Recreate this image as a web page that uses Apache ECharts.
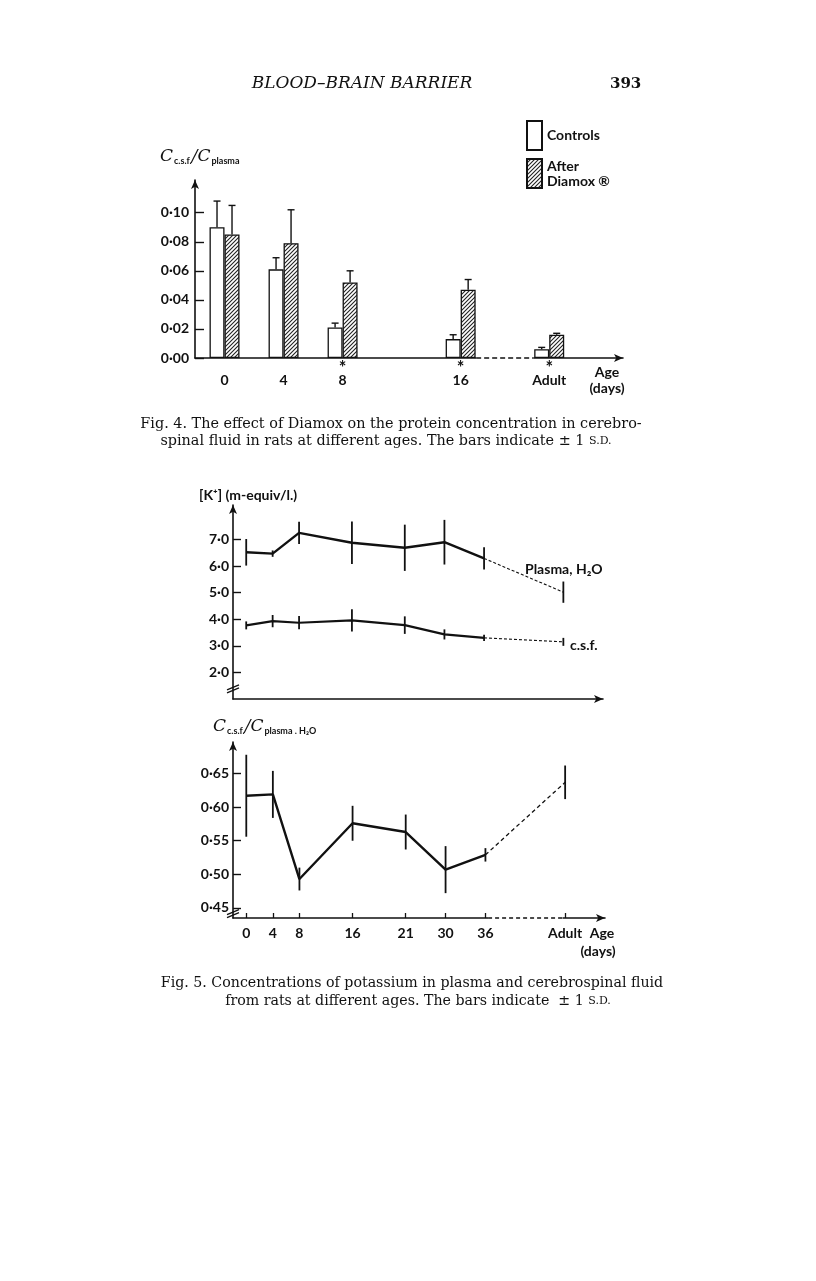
<!DOCTYPE html>
<html><head><meta charset="utf-8">
<script src="https://cdn.jsdelivr.net/npm/echarts@6/dist/echarts.min.js"></script>
<style>html,body{margin:0;padding:0;background:#fff}#c{width:816px;height:1281px}</style>
</head><body><div id="c"></div>
<script>
// ---------- Fig. 4 data ----------
const fig4Categories = ['0', '4', '8', '16', 'Adult'];
const fig4AxisPos = [0, 4, 8, 16, 22];
const fig4Controls = [0.090, 0.061, 0.021, 0.013, 0.006];
const fig4ControlsSD = [0.018, 0.008, 0.003, 0.003, 0.0013];
const fig4Diamox = [0.085, 0.079, 0.052, 0.047, 0.016];
const fig4DiamoxSD = [0.020, 0.023, 0.008, 0.007, 0.001];
const fig4Starred = [false, false, true, true, true];
const fig4YTicks = [0, 0.02, 0.04, 0.06, 0.08, 0.10];

// ---------- Fig. 5 data ----------
const fig5Categories = ['0', '4', '8', '16', '21', '30', '36', 'Adult'];
const fig5AxisPos = [1, 3, 5, 9, 13, 16, 19, 25];
const plasmaK = [6.52, 6.47, 7.25, 6.88, 6.69, 6.90, 6.29, 5.02];
const plasmaKSD = [0.50, 0.12, 0.42, 0.80, 0.87, 0.84, 0.42, 0.40];
const csfK = [3.77, 3.93, 3.87, 3.96, 3.78, 3.43, 3.30, 3.15];
const csfKSD = [0.15, 0.23, 0.25, 0.42, 0.33, 0.19, 0.12, 0.15];
const ratio = [0.617, 0.619, 0.493, 0.576, 0.563, 0.507, 0.529, 0.637];
const ratioSD = [0.061, 0.035, 0.017, 0.026, 0.026, 0.035, 0.010, 0.025];
const kTicks = [2, 3, 4, 5, 6, 7];
const ratioTicks = [0.45, 0.50, 0.55, 0.60, 0.65];

const SANS = 'Lato, "Open Sans", sans-serif';
const SERIF = '"DejaVu Serif", "Liberation Serif", serif';
const INK = '#111';

function hatch() {
  const c = document.createElement('canvas');
  c.width = 4; c.height = 4;
  const g = c.getContext('2d');
  g.fillStyle = '#fff'; g.fillRect(0, 0, 4, 4);
  g.strokeStyle = '#222'; g.lineWidth = 1.1;
  g.beginPath();
  g.moveTo(0, 4); g.lineTo(4, 0);
  g.moveTo(-1, 1); g.lineTo(1, -1);
  g.moveTo(3, 5); g.lineTo(5, 3);
  g.stroke();
  return c;
}
const dot = (v, d) => v.toFixed(d).replace('.', '\u00b7');

const chart = echarts.init(document.getElementById('c'), null, { renderer: 'canvas' });

function fig4Err(side) {
  return function (params, api) {
    const x = api.value(0), v = api.value(1), sd = api.value(2);
    const b = api.coord([x, v]), t = api.coord([x, v + sd]);
    const cx = b[0] + side * 7.5;
    return { type: 'group', children: [
      { type: 'line', shape: { x1: cx, y1: b[1], x2: cx, y2: t[1] }, style: { stroke: INK, lineWidth: 1.4 } },
      { type: 'line', shape: { x1: cx - 3.5, y1: t[1], x2: cx + 3.5, y2: t[1] }, style: { stroke: INK, lineWidth: 1.4 } }
    ] };
  };
}
function vErr(params, api) {
  const x = api.value(0), v = api.value(1), sd = api.value(2);
  const lo = api.coord([x, v - sd]), hi = api.coord([x, v + sd]);
  return { type: 'line', shape: { x1: lo[0], y1: lo[1], x2: hi[0], y2: hi[1] }, style: { stroke: INK, lineWidth: 1.8 } };
}
function breakMark(params, api) {
  const p = api.coord([api.value(0), api.value(1)]);
  return { type: 'group', children: [
    { type: 'line', shape: { x1: p[0] - 6, y1: p[1] + 2, x2: p[0] + 6, y2: p[1] - 3 }, style: { stroke: INK, lineWidth: 1.3 } },
    { type: 'line', shape: { x1: p[0] - 6, y1: p[1] + 5, x2: p[0] + 6, y2: p[1] } , style: { stroke: INK, lineWidth: 1.3 } }
  ] };
}

const axisLineStyle = { color: INK, width: 1.6 };
const arrowLine = { onZero: false, lineStyle: axisLineStyle, symbol: ['none', 'arrow'], symbolSize: [6, 9] };
const yLabel = (digits, margin) => ({
  fontFamily: SANS, fontWeight: 'bold', fontSize: 14, color: INK, margin: margin,
  formatter: v => dot(v, digits)
});

const option = {
  animation: false,
  backgroundColor: '#fff',
  grid: [
    { left: 195, top: 180, width: 428, height: 178 },
    { left: 233, top: 505, width: 370, height: 194 },
    { left: 233, top: 742, width: 372, height: 176 }
  ],
  legend: {
    left: 521, top: 115, orient: 'vertical', itemWidth: 15, itemHeight: 29, itemGap: 7,
    selectedMode: false, icon: 'rect',
    data: ['Controls', 'Diamox'],
    formatter: n => n === 'Controls' ? 'Controls' : 'After\nDiamox \u00ae',
    textStyle: { fontFamily: SANS, fontWeight: 'bold', fontSize: 14, lineHeight: 15, color: INK }
  },
  xAxis: [
    { gridIndex: 0, type: 'value', min: -2, max: 27, splitLine: { show: false },
      axisLine: arrowLine, axisTick: { show: false },
      axisLabel: { customValues: fig4AxisPos, margin: 6,
        formatter: v => { const i = fig4AxisPos.indexOf(v); return '{s|' + (fig4Starred[i] ? '*' : ' ') + '}\n{n|' + fig4Categories[i] + '}'; },
        rich: { s: { fontFamily: SANS, fontWeight: 'bold', fontSize: 18, lineHeight: 9, color: INK },
                n: { fontFamily: SANS, fontWeight: 'bold', fontSize: 14, lineHeight: 14, color: INK } } } },
    { gridIndex: 1, type: 'value', min: 0, max: 28, splitLine: { show: false },
      axisLine: arrowLine, axisTick: { show: false }, axisLabel: { show: false } },
    { gridIndex: 2, type: 'value', min: 0, max: 28, splitLine: { show: false },
      axisLine: arrowLine,
      axisTick: { customValues: fig5AxisPos, inside: true, length: 5, lineStyle: { color: INK, width: 1.3 } },
      axisLabel: { customValues: fig5AxisPos, margin: 8, fontFamily: SANS, fontWeight: 'bold', fontSize: 14, color: INK,
        formatter: v => fig5Categories[fig5AxisPos.indexOf(v)] } }
  ],
  yAxis: [
    { gridIndex: 0, type: 'value', min: 0, max: 0.1225, splitLine: { show: false },
      axisLine: arrowLine,
      axisTick: { customValues: fig4YTicks, inside: true, length: 9, lineStyle: { color: INK, width: 1.4 } },
      axisLabel: Object.assign({ customValues: fig4YTicks }, yLabel(2, 6)) },
    { gridIndex: 1, type: 'value', min: 1, max: 8.3, splitLine: { show: false },
      axisLine: arrowLine,
      axisTick: { customValues: kTicks, inside: true, length: 8, lineStyle: { color: INK, width: 1.4 } },
      axisLabel: Object.assign({ customValues: kTicks }, yLabel(1, 4)) },
    { gridIndex: 2, type: 'value', min: 0.435, max: 0.697, splitLine: { show: false },
      axisLine: arrowLine,
      axisTick: { customValues: ratioTicks, inside: true, length: 8, lineStyle: { color: INK, width: 1.4 } },
      axisLabel: Object.assign({ customValues: ratioTicks }, yLabel(2, 4)) }
  ],
  series: [
    // Fig 4 bars
    { name: 'Controls', type: 'bar', xAxisIndex: 0, yAxisIndex: 0, barWidth: 15, barGap: '0%', z: 3,
      itemStyle: { color: '#fff', borderColor: INK, borderWidth: 1.3 },
      data: fig4AxisPos.map((p, i) => [p, fig4Controls[i]]) },
    { name: 'Diamox', type: 'bar', xAxisIndex: 0, yAxisIndex: 0, barWidth: 15, barGap: '0%', z: 3,
      itemStyle: { color: { image: hatch(), repeat: 'repeat' }, borderColor: INK, borderWidth: 1.3 },
      data: fig4AxisPos.map((p, i) => [p, fig4Diamox[i]]) },
    { type: 'custom', xAxisIndex: 0, yAxisIndex: 0, z: 4, renderItem: fig4Err(-1),
      data: fig4AxisPos.map((p, i) => [p, fig4Controls[i], fig4ControlsSD[i]]) },
    { type: 'custom', xAxisIndex: 0, yAxisIndex: 0, z: 4, renderItem: fig4Err(1),
      data: fig4AxisPos.map((p, i) => [p, fig4Diamox[i], fig4DiamoxSD[i]]) },
    // Fig 4 baseline dashed gap
    { type: 'line', xAxisIndex: 0, yAxisIndex: 0, z: 5, clip: false, symbol: 'none', silent: true,
      lineStyle: { color: '#fff', width: 4 }, data: [[17.05, 0], [20.95, 0]] },
    { type: 'line', xAxisIndex: 0, yAxisIndex: 0, z: 6, clip: false, symbol: 'none', silent: true,
      lineStyle: { color: INK, width: 1.4, type: [5, 3] }, data: [[17.05, 0], [20.95, 0]] },

    // Fig 5 top: plasma
    { type: 'line', xAxisIndex: 1, yAxisIndex: 1, symbol: 'none', clip: false,
      lineStyle: { color: INK, width: 2.4 },
      data: fig5AxisPos.slice(0, 7).map((p, i) => [p, plasmaK[i]]) },
    { type: 'line', xAxisIndex: 1, yAxisIndex: 1, symbol: 'none', clip: false,
      lineStyle: { color: INK, width: 1.1, type: [3, 2] },
      data: fig5AxisPos.slice(6).map((p, i) => [p, plasmaK[i + 6]]) },
    { type: 'custom', xAxisIndex: 1, yAxisIndex: 1, renderItem: vErr,
      data: fig5AxisPos.map((p, i) => [p, plasmaK[i], plasmaKSD[i]]) },
    // csf
    { type: 'line', xAxisIndex: 1, yAxisIndex: 1, symbol: 'none', clip: false,
      lineStyle: { color: INK, width: 2.2 },
      data: fig5AxisPos.slice(0, 7).map((p, i) => [p, csfK[i]]) },
    { type: 'line', xAxisIndex: 1, yAxisIndex: 1, symbol: 'none', clip: false,
      lineStyle: { color: INK, width: 1.1, type: [3, 2] },
      data: fig5AxisPos.slice(6).map((p, i) => [p, csfK[i + 6]]) },
    { type: 'custom', xAxisIndex: 1, yAxisIndex: 1, renderItem: vErr,
      data: fig5AxisPos.map((p, i) => [p, csfK[i], csfKSD[i]]) },
    { type: 'custom', xAxisIndex: 1, yAxisIndex: 1, renderItem: breakMark, clip: false, data: [[0, 1.42]] },

    // Fig 5 bottom: ratio
    { type: 'line', xAxisIndex: 2, yAxisIndex: 2, symbol: 'none', clip: false,
      lineStyle: { color: INK, width: 2.4 },
      data: fig5AxisPos.slice(0, 7).map((p, i) => [p, ratio[i]]) },
    { type: 'line', xAxisIndex: 2, yAxisIndex: 2, symbol: 'none', clip: false,
      lineStyle: { color: INK, width: 1.3, type: [4, 3] },
      data: fig5AxisPos.slice(6).map((p, i) => [p, ratio[i + 6]]) },
    { type: 'custom', xAxisIndex: 2, yAxisIndex: 2, renderItem: vErr,
      data: fig5AxisPos.map((p, i) => [p, ratio[i], ratioSD[i]]) },
    { type: 'custom', xAxisIndex: 2, yAxisIndex: 2, renderItem: breakMark, clip: false, data: [[0, 0.443]] },
    // bottom baseline dashed part between 36 and Adult
    { type: 'line', xAxisIndex: 2, yAxisIndex: 2, z: 5, clip: false, symbol: 'none', silent: true,
      lineStyle: { color: '#fff', width: 4 }, data: [[19.2, 0.435], [24.8, 0.435]] },
    { type: 'line', xAxisIndex: 2, yAxisIndex: 2, z: 6, clip: false, symbol: 'none', silent: true,
      lineStyle: { color: INK, width: 1.3, type: [4, 3] }, data: [[19.2, 0.435], [24.8, 0.435]] }
  ],
  graphic: [
    { type: 'text', x: 362, y: 84, style: { text: 'BLOOD\u2013BRAIN BARRIER', font: 'italic 17px ' + SERIF, fill: INK, align: 'center', verticalAlign: 'middle' } },
    { type: 'text', x: 610, y: 84, style: { text: '393', font: 'bold 15px ' + SERIF, fill: INK, align: 'left', verticalAlign: 'middle' } },
    // Fig 4 y title
    { type: 'text', x: 160, y: 157, style: { text: '{C|C}{s|c.s.f.}{C|/C}{s|plasma}', verticalAlign: 'middle',
      rich: { C: { font: 'italic 17px ' + SERIF, fill: INK, verticalAlign: 'middle' },
              s: { font: 'bold 9px ' + SANS, fill: INK, padding: [8, 0, 0, 1] } } } },
    { type: 'text', x: 607, y: 372, style: { text: 'Age', font: 'bold 14px ' + SANS, fill: INK, align: 'center', verticalAlign: 'middle' } },
    { type: 'text', x: 607, y: 388, style: { text: '(days)', font: 'bold 14px ' + SANS, fill: INK, align: 'center', verticalAlign: 'middle' } },
    // Fig 4 caption
    { type: 'text', x: 391, y: 424, style: { text: 'Fig. 4. The effect of Diamox on the protein concentration in cerebro-', font: '14.4px ' + SERIF, fill: INK, align: 'center', verticalAlign: 'middle' } },
    { type: 'text', x: 386, y: 441, style: { text: 'spinal fluid in rats at different ages. The bars indicate \u00b1 1 {sc|S.D.}', font: '14.4px ' + SERIF, fill: INK, align: 'center', verticalAlign: 'middle', rich: { sc: { font: '11px ' + SERIF, fill: INK } } } },
    // Fig 5 top titles
    { type: 'text', x: 199, y: 495, style: { text: '[K\u207a] (m-equiv/l.)', font: 'bold 14px ' + SANS, fill: INK, verticalAlign: 'middle' } },
    { type: 'text', x: 525, y: 569, style: { text: 'Plasma, H\u2082O', font: 'bold 14px ' + SANS, fill: INK, verticalAlign: 'middle' } },
    { type: 'text', x: 570, y: 645, style: { text: 'c.s.f.', font: 'bold 14px ' + SANS, fill: INK, verticalAlign: 'middle' } },
    // Fig 5 bottom title
    { type: 'text', x: 213, y: 727, style: { text: '{C|C}{s|c.s.f.}{C|/C}{s|plasma . H\u2082O}', verticalAlign: 'middle',
      rich: { C: { font: 'italic 17px ' + SERIF, fill: INK, verticalAlign: 'middle' },
              s: { font: 'bold 9px ' + SANS, fill: INK, padding: [8, 0, 0, 1] } } } },
    { type: 'text', x: 602, y: 933, style: { text: 'Age', font: 'bold 14px ' + SANS, fill: INK, align: 'center', verticalAlign: 'middle' } },
    { type: 'text', x: 598, y: 951, style: { text: '(days)', font: 'bold 14px ' + SANS, fill: INK, align: 'center', verticalAlign: 'middle' } },
    // Fig 5 caption
    { type: 'text', x: 412, y: 983, style: { text: 'Fig. 5. Concentrations of potassium in plasma and cerebrospinal fluid', font: '14.2px ' + SERIF, fill: INK, align: 'center', verticalAlign: 'middle' } },
    { type: 'text', x: 418, y: 1001, style: { text: 'from rats at different ages. The bars indicate  \u00b1 1 {sc|S.D.}', font: '14.2px ' + SERIF, fill: INK, align: 'center', verticalAlign: 'middle', rich: { sc: { font: '11px ' + SERIF, fill: INK } } } }
  ]
};
chart.setOption(option);
</script>
</body></html>
